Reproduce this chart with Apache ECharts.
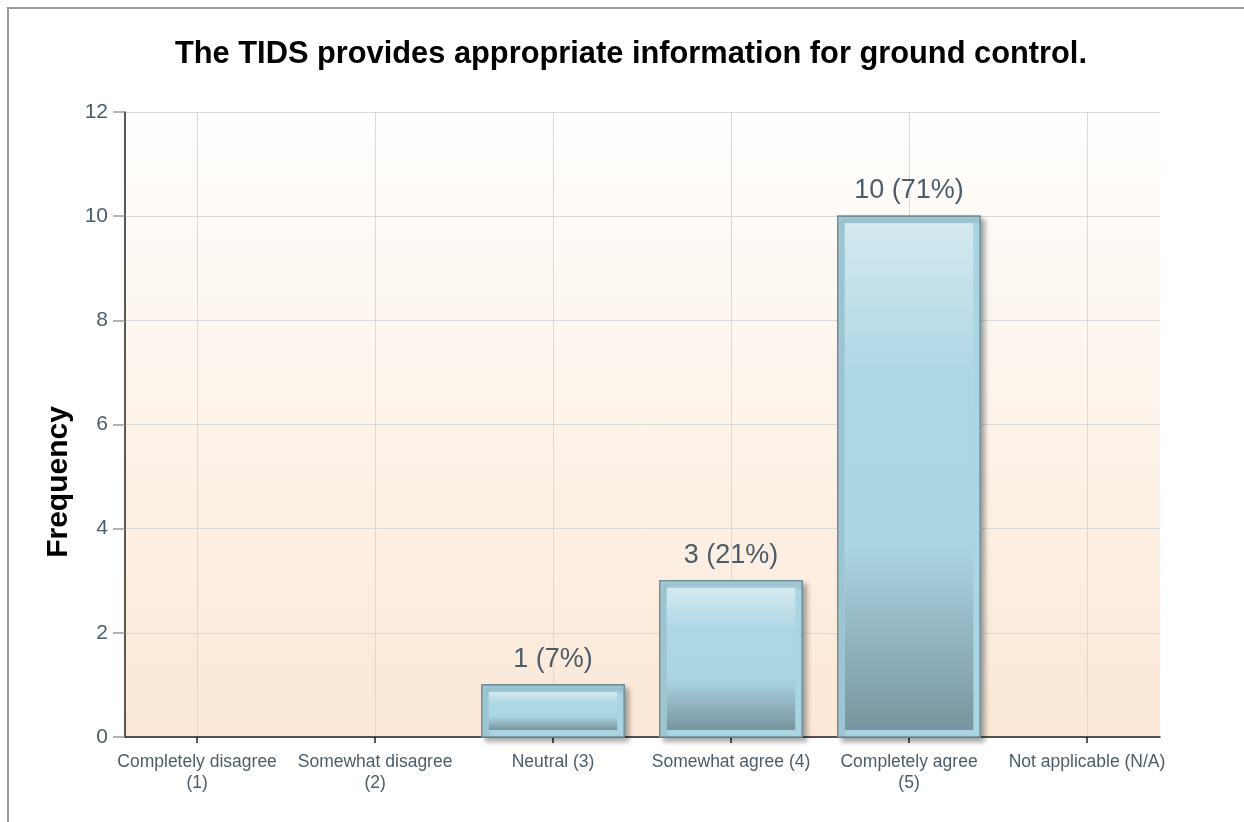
<!DOCTYPE html>
<html>
<head>
<meta charset="utf-8">
<script src="https://cdn.jsdelivr.net/npm/echarts@6/dist/echarts.min.js"></script>
<style>
  html, body { margin: 0; padding: 0; background: #ffffff; }
  #frame {
    position: absolute; left: 7px; top: 7px; width: 1237px; height: 815px;
    border-left: 2px solid #9a9a9a; border-top: 2px solid #9a9a9a;
  }
  #chart { position: absolute; left: 0; top: 0; width: 1244px; height: 822px; }
</style>
</head>
<body>
<div id="frame"></div>
<div id="chart"></div>
<script>
// Response categories (x axis)
const categories = [
  'Completely disagree\n(1)',
  'Somewhat disagree\n(2)',
  'Neutral (3)',
  'Somewhat agree (4)',
  'Completely agree\n(5)',
  'Not applicable (N/A)'
];
// Number of respondents per category
const counts = [0, 0, 1, 3, 10, 0];
// Share of respondents per category, in percent
const percents = [0, 0, 7, 21, 71, 0];
// Frequency axis ticks
const yTicks = [0, 2, 4, 6, 8, 10, 12];

const catIndex = categories.map((_, i) => i);
const barData = counts.map((c, i) => [i, c, percents[i]]);

const chart = echarts.init(document.getElementById('chart'), null, { renderer: 'canvas' });

const labelColor = '#4b5d6b';
const fontFamily = '"Liberation Sans", Arial, sans-serif';

// Each bar: outlined light-blue frame with a drop shadow, an inset
// glossy panel (light top, dark bottom) and a count/percent caption.
function renderBar(params, api) {
  const idx = api.value(0);
  const v = api.value(1);
  if (!v) return;
  const pct = api.value(2);
  const top = api.coord([idx, v]);
  const base = api.coord([idx, 0]);
  const w = api.size([1, 0])[0] * 0.8;
  const x0 = top[0] - w / 2;
  const h = base[1] - top[1];
  const inset = 7;
  return {
    type: 'group',
    children: [
      {
        type: 'rect',
        shape: { x: x0, y: top[1], width: w, height: h },
        style: {
          fill: '#aad5e3',
          stroke: '#738f99',
          lineWidth: 1.6,
          shadowBlur: 5,
          shadowOffsetX: 4,
          shadowOffsetY: 4,
          shadowColor: 'rgba(0,0,0,0.35)'
        }
      },
      {
        type: 'rect',
        shape: { x: x0 + inset, y: top[1] + inset, width: w - 2 * inset, height: h - 2 * inset },
        style: {
          fill: new echarts.graphic.LinearGradient(0, 0, 0, 1, [
            { offset: 0, color: '#d4e9f0' },
            { offset: 0.3, color: '#add7e5' },
            { offset: 0.63, color: '#acd6e4' },
            { offset: 1, color: '#78959f' }
          ])
        }
      },
      {
        type: 'text',
        style: {
          x: top[0],
          y: top[1] - 12,
          text: v + ' (' + pct + '%)',
          fill: labelColor,
          font: '27px ' + fontFamily,
          textAlign: 'center',
          textVerticalAlign: 'bottom'
        }
      }
    ]
  };
}

chart.setOption({
  animation: false,
  backgroundColor: 'transparent',
  title: {
    text: 'The TIDS provides appropriate information for ground control.',
    left: 170,
    top: 34,
    textStyle: {
      fontFamily: fontFamily,
      fontWeight: 'bold',
      fontSize: 30.8,
      color: '#000000'
    }
  },
  grid: {
    left: 125, right: 84, top: 112, bottom: 85,
    show: true,
    borderWidth: 0,
    backgroundColor: new echarts.graphic.LinearGradient(0, 0, 0, 1, [
      { offset: 0, color: '#fffefd' },
      { offset: 1, color: '#fbe8d6' }
    ])
  },
  xAxis: {
    type: 'value',
    min: -0.405,
    max: 5.41,
    axisLine: { show: true, onZero: false, lineStyle: { color: '#222222', width: 1.5 } },
    axisTick: { show: true, customValues: catIndex, length: 6, lineStyle: { color: '#222222', width: 1.5 } },
    axisLabel: {
      customValues: catIndex,
      formatter: v => categories[Math.round(v)],
      color: labelColor,
      fontFamily: fontFamily,
      fontSize: 17.5,
      lineHeight: 21,
      margin: 15,
      align: 'center'
    },
    splitLine: { show: true, lineStyle: { color: '#d9d9d9', width: 1 } }
  },
  yAxis: {
    type: 'value',
    min: yTicks[0],
    max: yTicks[yTicks.length - 1],
    interval: 2,
    name: 'Frequency',
    nameLocation: 'middle',
    nameGap: 48,
    nameRotate: 90,
    nameTextStyle: {
      fontFamily: fontFamily,
      fontWeight: 'bold',
      fontSize: 30,
      color: '#000000',
      padding: [0, 115, 0, 0]
    },
    axisLine: { show: true, onZero: false, lineStyle: { color: '#222222', width: 1.5 } },
    axisTick: { show: true, length: 12, lineStyle: { color: '#9a9a9a', width: 1.5 } },
    axisLabel: {
      color: labelColor,
      fontFamily: fontFamily,
      fontSize: 21,
      margin: 17
    },
    splitLine: { show: true, lineStyle: { color: '#d9d9d9', width: 1 } }
  },
  series: [{
    type: 'custom',
    renderItem: renderBar,
    data: barData,
    encode: { x: 0, y: 1 },
    clip: false,
    z: 5
  }]
});
</script>
</body>
</html>
